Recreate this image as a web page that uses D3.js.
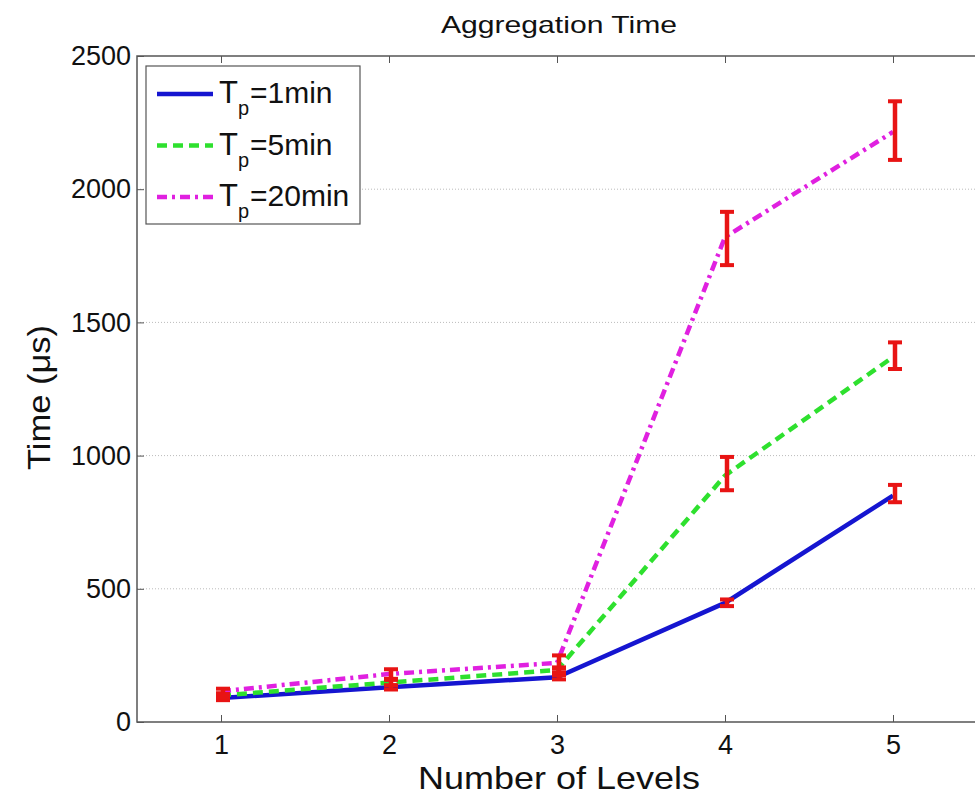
<!DOCTYPE html>
<html>
<head>
<meta charset="utf-8">
<script src="https://cdn.jsdelivr.net/npm/d3@7"></script>
<style>
  html, body { margin: 0; padding: 0; background: #fff; }
  svg { display: block; font-family: "Liberation Sans", Arial, sans-serif; }
</style>
</head>
<body>
<svg id="chart" width="975" height="798"></svg>
<script>
// ---- data ----
const levels = [1, 2, 3, 4, 5];
const seriesNames = ["1min", "5min", "20min"];
const tp1Values  = [90, 130, 168, 447, 850];
const tp1Low     = [82, 122, 160, 435, 825];
const tp1High    = [98, 138, 176, 460, 890];
const tp5Values  = [100, 148, 195, 925, 1370];
const tp5Low     = [92, 138, 185, 870, 1325];
const tp5High    = [108, 158, 205, 995, 1425];
const tp20Values = [115, 180, 222, 1820, 2215];
const tp20Low    = [105, 162, 200, 1715, 2110];
const tp20High   = [125, 198, 250, 1915, 2330];
const yTicks = [0, 500, 1000, 1500, 2000, 2500];
const xTicks = [1, 2, 3, 4, 5];
const titleText = "Aggregation Time";
const xLabelText = "Number of Levels";
const yLabelText = "Time (\u03bcs)";

const series = [
  { name: seriesNames[0], values: tp1Values,  low: tp1Low,  high: tp1High,  color: "#1515d0", dash: null },
  { name: seriesNames[1], values: tp5Values,  low: tp5Low,  high: tp5High,  color: "#2ee02e", dash: "10,6" },
  { name: seriesNames[2], values: tp20Values, low: tp20Low, high: tp20High, color: "#e020e0", dash: "10,5,3,5" }
];

// ---- layout ----
const svg = d3.select("#chart");
const pL = 137, pR = 977, pT = 56, pB = 722;
const x = d3.scaleLinear().domain([0.5, 5.5]).range([pL, pR]);
const y = d3.scaleLinear().domain([0, 2500]).range([pB, pT]);
const axisColor = "#555";
const errColor = "#e81414";
const fontFam = "Liberation Sans, Arial, sans-serif";

// grid (horizontal dotted)
svg.append("g").selectAll("line").data(yTicks.filter(d => d > 0 && d < 2500)).join("line")
  .attr("x1", pL).attr("x2", pR)
  .attr("y1", d => y(d)).attr("y2", d => y(d))
  .attr("stroke", "#bbb").attr("stroke-width", 1).attr("stroke-dasharray", "1,2");

// axes box
svg.append("rect").attr("x", pL).attr("y", pT).attr("width", pR - pL).attr("height", pB - pT)
  .attr("fill", "none").attr("stroke", axisColor).attr("stroke-width", 1.5);

// bottom axis
const xAxis = d3.axisBottom(x).tickValues(xTicks).tickFormat(d3.format("d")).tickSizeInner(-7).tickSizeOuter(0).tickPadding(13);
const gx = svg.append("g").attr("transform", `translate(0,${pB})`).call(xAxis);
gx.attr("font-size", 27).attr("font-family", fontFam);
gx.select(".domain").remove();
gx.selectAll("line").attr("stroke", axisColor);
gx.selectAll("text").attr("fill", "#111");

// top ticks
const xAxisTop = d3.axisTop(x).tickValues(xTicks).tickSizeInner(-7).tickSizeOuter(0).tickFormat("");
const gxt = svg.append("g").attr("transform", `translate(0,${pT})`).call(xAxisTop);
gxt.select(".domain").remove();
gxt.selectAll("line").attr("stroke", axisColor);

// left axis
const yAxis = d3.axisLeft(y).tickValues(yTicks).tickFormat(d3.format("d")).tickSizeInner(-7).tickSizeOuter(0).tickPadding(6);
const gy = svg.append("g").attr("transform", `translate(${pL},0)`).call(yAxis);
gy.attr("font-size", 27).attr("font-family", fontFam);
gy.select(".domain").remove();
gy.selectAll("line").attr("stroke", axisColor);
gy.selectAll("text").attr("fill", "#111");

// title and labels
svg.append("text").attr("x", 441).attr("y", 33)
  .attr("font-size", 24).attr("fill", "#111")
  .attr("textLength", 236).attr("lengthAdjust", "spacingAndGlyphs").text(titleText);
svg.append("text").attr("x", 418).attr("y", 789)
  .attr("font-size", 32).attr("fill", "#111")
  .attr("textLength", 282).attr("lengthAdjust", "spacingAndGlyphs").text(xLabelText);
svg.append("text").attr("transform", `translate(50,470) rotate(-90)`)
  .attr("font-size", 31).attr("fill", "#111")
  .attr("textLength", 145).attr("lengthAdjust", "spacingAndGlyphs").text(yLabelText);

// lines + error bars
const line = d3.line().x((d, i) => x(levels[i])).y(d => y(d));
const capW = 7;
series.forEach(s => {
  svg.append("path").datum(s.values)
    .attr("d", line).attr("fill", "none")
    .attr("stroke", s.color).attr("stroke-width", 4.5)
    .attr("stroke-dasharray", s.dash);
  const g = svg.append("g");
  levels.forEach((lv, i) => {
    const cx = x(lv) + 2;
    g.append("line").attr("x1", cx).attr("x2", cx).attr("y1", y(s.low[i])).attr("y2", y(s.high[i]))
      .attr("stroke", errColor).attr("stroke-width", 4.5);
    [s.low[i], s.high[i]].forEach(v => {
      g.append("line").attr("x1", cx - capW).attr("x2", cx + capW).attr("y1", y(v)).attr("y2", y(v))
        .attr("stroke", errColor).attr("stroke-width", 4);
    });
  });
});

// legend
const lg = svg.append("g");
lg.append("rect").attr("x", 146).attr("y", 66).attr("width", 214).attr("height", 158)
  .attr("fill", "#fff").attr("stroke", axisColor).attr("stroke-width", 1.2);
series.forEach((s, i) => {
  const ly = 94 + i * 51.5;
  lg.append("line").attr("x1", 157).attr("x2", 213).attr("y1", ly).attr("y2", ly)
    .attr("stroke", s.color).attr("stroke-width", 4.5).attr("stroke-dasharray", s.dash);
  lg.append("text").attr("x", 219).attr("y", ly + 9).attr("font-size", 31).attr("fill", "#111").text("T");
  lg.append("text").attr("x", 238).attr("y", ly + 21).attr("font-size", 20).attr("fill", "#111").text("p");
  lg.append("text").attr("x", 250).attr("y", ly + 9).attr("font-size", 30).attr("fill", "#111")
    .text("=" + s.name);
});
</script>
</body>
</html>
